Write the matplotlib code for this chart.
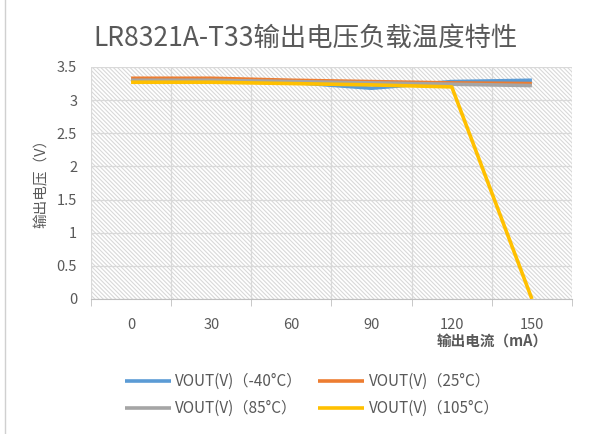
import matplotlib
matplotlib.use('Agg')
from matplotlib import pyplot as plt
from matplotlib.patches import Rectangle

plt.rcParams['font.family'] = ['Noto Sans CJK SC', 'DejaVu Sans']
plt.rcParams['hatch.color'] = '#d9d9d9'
plt.rcParams['hatch.linewidth'] = 0.8

# Datos
corriente = ['0', '30', '60', '90', '120', '150']
v_m40 = [3.30, 3.31, 3.27, 3.18, 3.28, 3.30]
v_25 = [3.33, 3.33, 3.30, 3.28, 3.26, 3.25]
v_85 = [3.30, 3.30, 3.28, 3.26, 3.24, 3.22]
v_105 = [3.27, 3.27, 3.25, 3.23, 3.20, 0.0]

series = [
    ('VOUT(V)（-40°C）', v_m40, '#5B9BD5'),
    ('VOUT(V)（25°C）', v_25, '#ED7D31'),
    ('VOUT(V)（85°C）', v_85, '#A5A5A5'),
    ('VOUT(V)（105°C）', v_105, '#FFC000'),
]

gris = '#595959'

fig = plt.figure(figsize=(6.04, 4.34), dpi=100)
ax = fig.add_axes([91/604, 1 - 299/434, (572-91)/604, (299-67)/434])

#Fondo rayado
ax.add_patch(Rectangle((0, 0), 1, 1, transform=ax.transAxes, facecolor='white',
                       hatch='\\' * 8, edgecolor='#d9d9d9', linewidth=0, zorder=0))

x = list(range(len(corriente)))
lineas = []
for nombre, vals, color in series:
    l, = ax.plot(x, vals, color=color, linewidth=2.6, label=nombre, zorder=3, solid_capstyle='butt')
    lineas.append(l)

ax.set_xlim(-0.5, len(corriente) - 0.5)
ax.set_ylim(0, 3.5)

#Rejilla
yt = [0, 0.5, 1, 1.5, 2, 2.5, 3, 3.5]
for y in yt:
    ax.axhline(y, color='#d9d9d9', linewidth=0.9, zorder=1)
for b in range(len(corriente) + 1):
    ax.axvline(b - 0.5, color='#d9d9d9', linewidth=0.9, zorder=1)

ax.set_yticks(yt)
ax.set_yticklabels(['0', '0.5', '1', '1.5', '2', '2.5', '3', '3.5'])
ax.set_xticks(x)
ax.set_xticklabels(corriente)
ax.set_xticks([b - 0.5 for b in range(len(corriente) + 1)], minor=True)
ax.tick_params(axis='x', which='major', length=0, pad=14, labelsize=10.5, labelcolor=gris)
ax.tick_params(axis='x', which='minor', length=5, color='#bfbfbf', direction='out')
ax.tick_params(axis='y', length=0, pad=10, labelsize=10.5, labelcolor=gris)

for s in ['top', 'right', 'left']:
    ax.spines[s].set_visible(False)
ax.spines['bottom'].set_color('#bfbfbf')

fig.text(306/604, 1 - 38/434, 'LR8321A-T33输出电压负载温度特性', ha='center', va='center',
         fontsize=19, color=gris)
fig.text(492/604, 1 - 342/434, '输出电流（mA）', ha='center', va='center',
         fontsize=10.5, color=gris, fontweight='bold')
fig.text(42/604, 1 - 180/434, '输出电压（V）', ha='center', va='center',
         fontsize=10.5, color=gris, rotation=90)

#Orden por filas como en Excel
orden = [0, 2, 1, 3]
fig.legend([lineas[i] for i in orden], [series[i][0] for i in orden],
           loc='center', bbox_to_anchor=(312/604, 1 - 395/434), ncol=2, frameon=False,
           fontsize=11, labelcolor=gris, handlelength=3.0, columnspacing=1.0,
           handletextpad=0.3, labelspacing=0.65)

#Borde izquierdo
fig.add_artist(plt.Line2D([5/604, 5/604], [0, 1], color='#d0d0d0', linewidth=1,
                          transform=fig.transFigure))

fig.savefig('out.png', dpi=100)
